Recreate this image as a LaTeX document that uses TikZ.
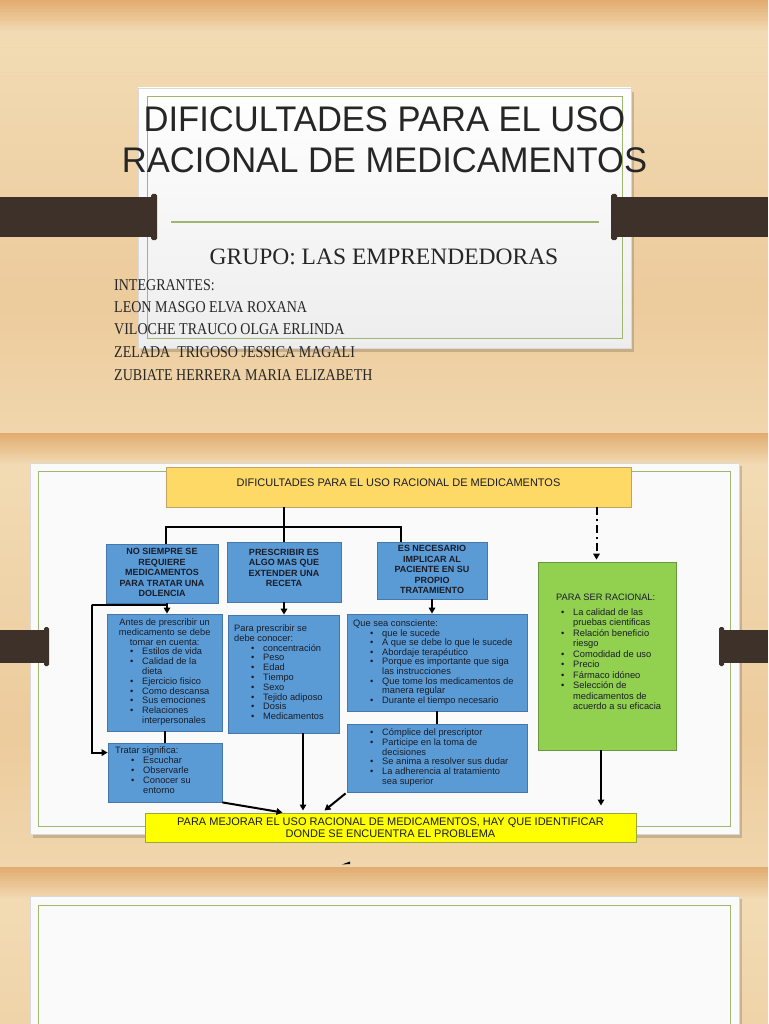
\documentclass[tikz,border=0pt]{standalone}
\usepackage{fontspec}
\setmainfont{Liberation Sans}
\newfontfamily\titlefont[FakeStretch=0.97]{Liberation Sans}
\newfontfamily\serifnarrow[FakeStretch=0.85]{Liberation Serif}
\newfontfamily\seriffont{Liberation Serif}
\usetikzlibrary{arrows.meta,fit}

\definecolor{wood}{RGB}{236,203,156}
\definecolor{wooddark}{RGB}{226,172,112}
\definecolor{woodlight}{RGB}{242,219,180}
\definecolor{barcol}{RGB}{62,49,41}
\definecolor{cardborder}{RGB}{160,182,112}
\definecolor{bluefill}{RGB}{91,155,213}
\definecolor{blueedge}{RGB}{70,118,170}
\definecolor{topyellow}{RGB}{255,217,102}
\definecolor{topedge}{RGB}{190,165,100}
\definecolor{greenfill}{RGB}{146,208,80}
\definecolor{greenedge}{RGB}{104,150,66}
\definecolor{botyellow}{RGB}{255,255,0}
\definecolor{botedge}{RGB}{150,170,60}
\definecolor{textdark}{RGB}{25,28,40}
\definecolor{titlecol}{RGB}{38,38,38}

\newcommand\myb{\hspace*{23pt}\makebox[12pt][l]{\textbullet}}
\newcommand\myc{\hspace*{35pt}}

\tikzset{
  bluebox/.style={draw=blueedge, fill=bluefill, line width=0.8pt, inner sep=0pt},
  lvlone/.style={font=\fontsize{9}{10.4}\selectfont\bfseries, text=textdark, align=center, inner sep=0pt},
  txt/.style={font=\fontsize{9.3}{9.8}\selectfont, text=textdark, align=left, inner sep=0pt, anchor=north west},
  conn/.style={line width=2pt, black},
  arr/.style={conn, -{Triangle[length=6pt,width=6.5pt]}},
  namestyle/.style={font=\serifnarrow\fontsize{16.5}{18}\selectfont, text=titlecol, anchor=west, inner sep=0pt},
  cardshadow/.style={fill=black, opacity=0.16},
}

\begin{document}
\begin{tikzpicture}[x=1pt,y=-1pt]
\useasboundingbox (0,0) rectangle (768,1024);

% ---------- wood background ----------
\fill[wood] (0,0) rectangle (768,1024);
\foreach \yo in {0,433,867}{
  \shade[top color=wooddark, bottom color=woodlight] (0,\yo) rectangle (768,\yo+32);
  \shade[top color=woodlight, bottom color=wood] (0,\yo+32) rectangle (768,\yo+300);
  \shade[top color=wood, bottom color=woodlight!70!wood] (0,\yo+300) rectangle (768,\yo+433);
}
\foreach \yy/\op in {4/0.12,11/0.1,19/0.08,47/0.06,72/0.05,437/0.12,444/0.1,452/0.08,871/0.12,878/0.1,886/0.08}{
  \draw[wooddark, opacity=\op, line width=0.8pt] (0,\yy) -- (768,\yy);
}

% ---------- slide 1 ----------
\fill[cardshadow] (141,92) rectangle (634,352);
\shade[top color=white, bottom color=black!7] (138,88) rectangle (631,348);
\draw[black!15, line width=0.5pt] (138,88) rectangle (631,348);
\draw[cardborder, line width=1pt] (147,97) rectangle (622,338);

\node[font=\titlefont\fontsize{35.6}{40}\selectfont, text=titlecol, inner sep=0pt] (title1) at (384.5,119.5) {DIFICULTADES PARA EL USO};
\node[font=\titlefont\fontsize{35.6}{40}\selectfont, text=titlecol, inner sep=0pt] (title2) at (384.5,160) {RACIONAL DE MEDICAMENTOS};

\draw[cardborder, line width=1.2pt] (171,222) -- (599,222);

\fill[barcol] (0,197) rectangle (154,237);
\fill[barcol, rounded corners=1.5pt] (151,194) rectangle (157,240);
\fill[barcol] (614,197) rectangle (768,237);
\fill[barcol, rounded corners=1.5pt] (611,194) rectangle (617,240);

\node[font=\seriffont\fontsize{23.5}{26}\selectfont, text=titlecol, inner sep=0pt] (grupo) at (384,256.5) {GRUPO: LAS EMPRENDEDORAS};

\node[namestyle] (n0) at (114,285) {INTEGRANTES:};
\node[namestyle] (n1) at (114,307) {LEON MASGO ELVA ROXANA};
\node[namestyle] (n2) at (114,329.5) {VILOCHE TRAUCO OLGA ERLINDA};
\node[namestyle] (n3) at (114,352.5) {ZELADA\ \ TRIGOSO JESSICA MAGALI};
\node[namestyle] (n4) at (114,375.5) {ZUBIATE HERRERA MARIA ELIZABETH};

% ---------- slide 2 ----------
\fill[cardshadow] (33,466) rectangle (742,838);
\fill[black!2] (30,463) rectangle (739,834);
\draw[black!15, line width=0.5pt] (30,463) rectangle (739,834);
\draw[cardborder, line width=1pt] (38,471) rectangle (730,826);

\fill[barcol] (0,630) rectangle (46,663);
\fill[barcol, rounded corners=1.5pt] (44,627) rectangle (49,666);
\fill[barcol] (722,630) rectangle (768,663);
\fill[barcol, rounded corners=1.5pt] (719,627) rectangle (724,666);

% top box
\node[draw=topedge, fill=topyellow, line width=0.8pt, inner sep=0pt, fit={(166,467)(631,507)}] (T) {};
\node[font=\fontsize{11}{13}\selectfont, text=textdark, inner sep=0pt] (Tt) at (398.5,483) {DIFICULTADES PARA EL USO RACIONAL DE MEDICAMENTOS};

% level one
\node[bluebox, fit={(106,544)(218,603)}] (B1) {};
\node[lvlone] (B1t) at (162,572.5) {NO SIEMPRE SE\\REQUIERE\\MEDICAMENTOS\\PARA TRATAR UNA\\DOLENCIA};
\node[bluebox, fit={(227,542)(341,602)}] (B2) {};
\node[lvlone] (B2t) at (284,568) {PRESCRIBIR ES\\ALGO MAS QUE\\EXTENDER UNA\\RECETA};
\node[bluebox, fit={(377,542)(487,599)}] (B3) {};
\node[lvlone] (B3t) at (432,569.5) {ES NECESARIO\\IMPLICAR AL\\PACIENTE EN SU\\PROPIO\\TRATAMIENTO};

% green box
\node[draw=greenedge, fill=greenfill, line width=0.8pt, inner sep=0pt, fit={(538,562)(676,750)}] (G) {};
\node[txt, font=\fontsize{9.3}{10.5}\selectfont] (Gt) at (538,593.5) {%
\hspace*{18pt}PARA SER RACIONAL:\\[4.5pt]
\myb La calidad de las\\
\myc pruebas cientificas\\
\myb Relación beneficio\\
\myc riesgo\\
\myb Comodidad de uso\\
\myb Precio\\
\myb Fármaco idóneo\\
\myb Selección de\\
\myc medicamentos de\\
\myc acuerdo a su eficacia};

% level two
\node[bluebox, fit={(107,614)(222,731)}] (C1) {};
\node[txt] (C1t) at (107,618.5) {%
\makebox[115pt][c]{Antes de prescribir un}\\
\makebox[115pt][c]{medicamento se debe}\\
\makebox[115pt][c]{tomar en cuenta:}\\
\myb Estilos de vida\\
\myb Calidad de la\\
\myc dieta\\
\myb Ejercicio fisico\\
\myb Como descansa\\
\myb Sus emociones\\
\myb Relaciones\\
\myc interpersonales};

\node[bluebox, fit={(228,615)(339,733)}] (C2) {};
\node[txt] (C2t) at (228,624.5) {%
\hspace*{6pt}Para prescribir se\\
\hspace*{6pt}debe conocer:\\
\myb concentración\\
\myb Peso\\
\myb Edad\\
\myb Tiempo\\
\myb Sexo\\
\myb Tejido adiposo\\
\myb Dosis\\
\myb Medicamentos};

\node[bluebox, fit={(347,614)(527,711)}] (C3) {};
\node[txt, font=\fontsize{9.3}{9.6}\selectfont] (C3t) at (347,619.5) {%
\hspace*{6pt}Que sea consciente:\\
\myb que le sucede\\
\myb A que se debe lo que le sucede\\
\myb Abordaje terapéutico\\
\myb Porque es importante que siga\\
\myc las instrucciones\\
\myb Que tome los medicamentos de\\
\myc manera regular\\
\myb Durante el tiempo necesario};

\node[bluebox, fit={(347,724)(527,792)}] (C4) {};
\node[txt] (C4t) at (347,728.5) {%
\myb Cómplice del prescriptor\\
\myb Participe en la toma de\\
\myc decisiones\\
\myb Se anima a resolver sus dudar\\
\myb La adherencia al tratamiento\\
\myc sea superior};

\node[bluebox, fit={(108,743)(222,802)}] (C5) {};
\node[txt, font=\fontsize{9.3}{10}\selectfont] (C5t) at (108,746.5) {%
\hspace*{7pt}Tratar significa:\\
\myb Escuchar\\
\myb Observarle\\
\myb Conocer su\\
\myc entorno};

% bottom box
\node[draw=botedge, fill=botyellow, line width=1pt, inner sep=0pt, fit={(145,813)(636,842)}] (P) {};
\node[font=\fontsize{11}{11.8}\selectfont, text=textdark, align=center, inner sep=0pt] (Pt) at (390.5,828) {PARA MEJORAR EL USO RACIONAL DE MEDICAMENTOS, HAY QUE IDENTIFICAR\\DONDE SE ENCUENTRA EL PROBLEMA};

% connectors
\draw[conn] (T.south -| B2.north) -- ++(0,20) coordinate (hub);
\draw[conn] ([xshift=4pt]B1.north) |- (hub) -| ([xshift=-31pt]B3.north);
\draw[conn] (hub) -- (hub |- B2.north);

\draw[arr] ([xshift=5pt]B1.south) -- ([xshift=5pt]B1.south |- C1.north);
\draw[arr] (B2.south) -- (B2.south |- C2.north);
\draw[arr] (B3.south) -- (B3.south |- C3.north);

\coordinate (elb) at (92,605);
\draw[arr] ([xshift=5pt,yshift=-2pt]B1.south) -| (elb) |- ([yshift=-10pt]C5.north west);

\draw[conn] (C1.south) -- (C1.south |- C5.north);
\draw[conn] (C3.south) -- (C3.south |- C4.north);

\draw[conn, dash pattern=on 8pt off 4pt on 2pt off 4pt, -{Triangle[length=6pt,width=6.5pt]}]
  ([xshift=198pt]T.south) -- ([xshift=198pt,yshift=2pt]T.south |- G.north);

\draw[arr] (C5.south east) -- ([xshift=138pt]P.north west);
\draw[arr] ([xshift=19.5pt]C2.south) -- ([xshift=19.5pt,yshift=2pt]C2.south |- P.north);
\draw[arr] ([xshift=-1pt,yshift=-1pt]C4.south west) -- ([xshift=180pt,yshift=2pt]P.north west);
\draw[arr, shorten >=7pt] ([xshift=-6pt]G.south) -- ([xshift=-6pt]G.south |- P.north);

% small mark below slide 2
\fill[black] (342,864.5) -- (350,861.5) -- (350,864) -- cycle;

% ---------- slide 3 ----------
\fill[cardshadow] (33,899) rectangle (742,1030);
\fill[black!2] (30,896) rectangle (739,1030);
\draw[black!15, line width=0.5pt] (30,896) rectangle (739,1030);
\draw[cardborder, line width=1pt] (38,905) rectangle (730,1030);

\end{tikzpicture}
\end{document}
